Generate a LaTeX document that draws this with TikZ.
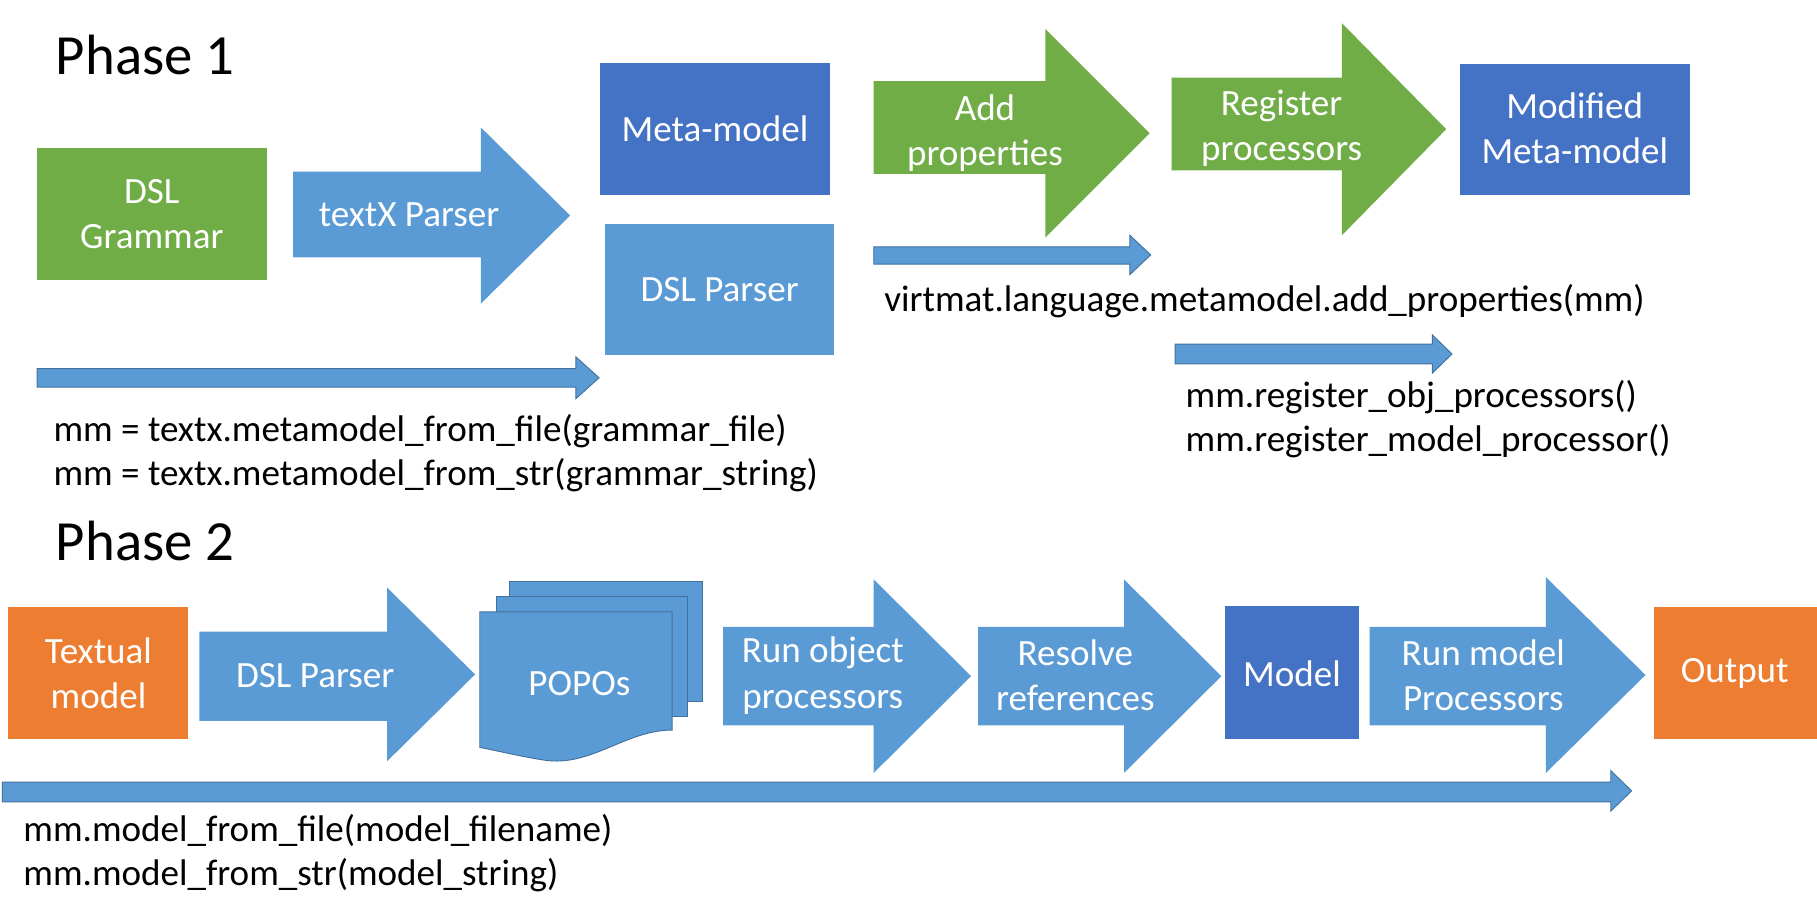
\documentclass[tikz,border=0pt]{standalone}
\usepackage{fontspec}
\setmainfont{Carlito}
\definecolor{gr}{HTML}{70AD47}
\definecolor{lb}{HTML}{5B9BD5}
\definecolor{db}{HTML}{4472C4}
\definecolor{og}{HTML}{ED7D31}
\definecolor{ol}{HTML}{41719C}
\newcommand\arrshape[8]{% style, x1,x2,x3, body top, body bot, head top, head bot
  \path[#1] (#2,#5) -- (#3,#5) -- (#3,#7) -- (#4,{(#7+#8)/2}) -- (#3,#8) -- (#3,#6) -- (#2,#6) -- cycle;}
\begin{document}
\begin{tikzpicture}[x=1pt,y=-1pt,
  big/.style={fill=lb},
  biggr/.style={fill=gr},
  thin/.style={fill=lb,draw=ol,line width=0.8pt},
  lbl/.style={text=white,font=\fontsize{32}{39}\selectfont,align=center},
  code/.style={anchor=base west,inner sep=0pt,font=\fontsize{32}{38}\selectfont},
  ph/.style={anchor=base west,inner sep=0pt,font=\fontsize{49}{52}\selectfont}]
\useasboundingbox (0,0) rectangle (1568,795);
% Phase 1
\node[ph] (p1) at (48,64) {Phase 1};
\fill[gr] (32,128) rectangle (230,242);
\node[lbl] (dsl) at (131,185) {DSL\\Grammar};
\arrshape{big}{253}{415}{492}{148}{222}{110}{262}
\node[lbl] (tx) at (353,185) {textX Parser};
\fill[db] (518,54) rectangle (716,168);
\node[lbl] (mm) at (617,111) {Meta-model};
\fill[lb] (522,193) rectangle (720,306);
\node[lbl] (dp) at (621,250) {DSL Parser};
\arrshape{thin}{32}{497}{517}{318}{334}{308}{344}
\node[code] (c1) at (46,381) {mm = textx.metamodel\_from\_file(grammar\_file)};
\node[code] (c2) at (46,419) {mm = textx.metamodel\_from\_str(grammar\_string)};
\arrshape{biggr}{754}{902}{992}{70}{150}{25}{205}
\node[lbl] (ap) at (850,115) {Add\\properties};
\arrshape{biggr}{1011}{1158}{1248}{67}{147}{20}{203}
\node[lbl] (rp) at (1106,111) {Register\\processors};
\fill[db] (1260,55) rectangle (1458,168);
\node[lbl] (mmm) at (1359,111) {Modified\\Meta-model};
\arrshape{thin}{754}{975}{993}{213}{228}{203}{237}
\node[code] (c3) at (763,269) {virtmat.language.metamodel.add\_properties(mm)};
\arrshape{thin}{1014}{1236}{1253}{297}{314}{289}{322}
\node[code] (c4) at (1023,352) {mm.register\_obj\_processors()};
\node[code] (c5) at (1023,390) {mm.register\_model\_processor()};
% Phase 2
\node[ph] (p2) at (48,484) {Phase 2};
\fill[og] (7,524) rectangle (162,638);
\node[lbl] (tm) at (85,581) {Textual\\model};
\arrshape{big}{172}{334}{410}{545}{622}{507}{657}
\node[lbl] (dp2) at (272,583) {DSL Parser};
\path[fill=lb,draw=ol,line width=0.8pt] (440,502) rectangle (606,605);
\path[fill=lb,draw=ol,line width=0.8pt] (428,515) rectangle (593,618);
\path[fill=lb,draw=ol,line width=0.8pt] (414,528) -- (580,528) -- (580,630)
  .. controls (540,630) and (510,662) .. (470,656) .. controls (450,653) and (430,648) .. (414,645) -- cycle;
\node[lbl] (po) at (500,590) {POPOs};
\arrshape{big}{624}{754}{838}{541}{626}{500}{667}
\node[lbl] (ro) at (710,583) {Run object\\processors};
\arrshape{big}{844}{970}{1054}{541}{626}{500}{667}
\node[lbl] (rr) at (928,583) {Resolve\\references};
\fill[db] (1057,523) rectangle (1173,638);
\node[lbl] (md) at (1115,581) {Model};
\arrshape{big}{1182}{1334}{1420}{541}{626}{498}{667}
\node[lbl] (rm) at (1280,583) {Run model\\Processors};
\fill[og] (1427,524) rectangle (1568,638);
\node[lbl] (out) at (1497,581) {Output};
\arrshape{thin}{2}{1390}{1408}{675}{692}{665}{700}
\node[code] (c6) at (20,726) {mm.model\_from\_file(model\_filename)};
\node[code] (c7) at (20,764) {mm.model\_from\_str(model\_string)};
\end{tikzpicture}
\end{document}
